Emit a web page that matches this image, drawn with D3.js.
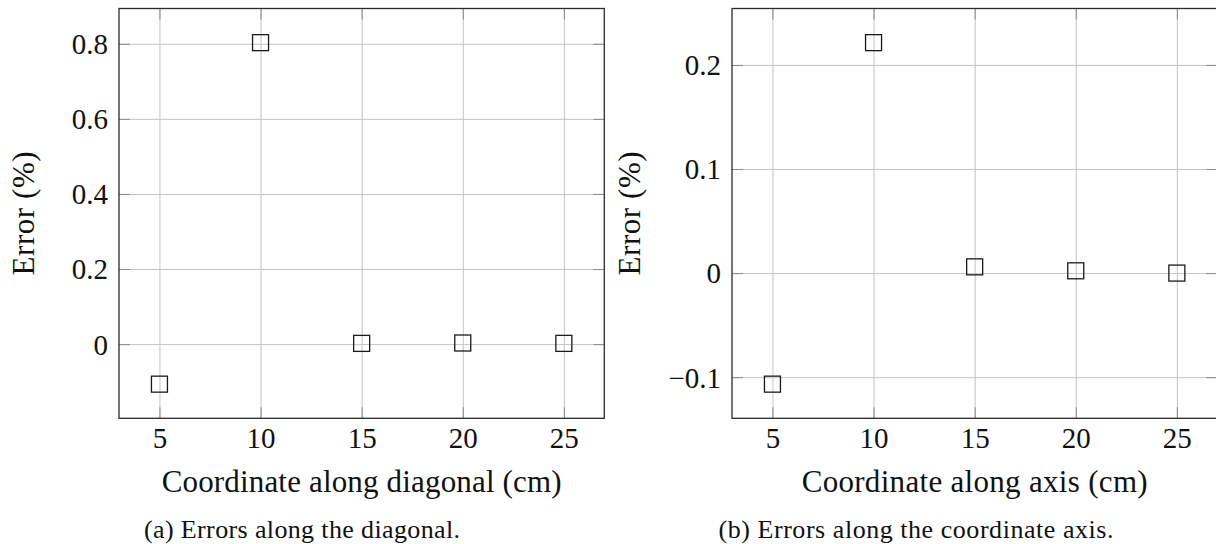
<!DOCTYPE html>
<html>
<head>
<meta charset="utf-8">
<script src="https://cdn.jsdelivr.net/npm/d3@7"></script>
<style>
  html, body { margin: 0; padding: 0; background: #fff; }
  svg { display: block; }
  text { font-family: "Liberation Serif", "Times New Roman", serif; fill: #111; }
</style>
</head>
<body>
<svg id="fig" width="1216" height="544"></svg>
<script>
// Measurement positions (cm) shared by both panels
const positions = [5, 10, 15, 20, 25];

// Relative error (%) along the diagonal
const errorsDiagonal = [-0.1066, 0.803, 0.002, 0.003, 0.002];

// Relative error (%) along the coordinate axis
const errorsAxis = [-0.1067, 0.2214, 0.006, 0.0022, 0.0];

// Tick values
const xTicks = [5, 10, 15, 20, 25];
const yTicksDiagonal = [0, 0.2, 0.4, 0.6, 0.8];
const yTicksAxis = [-0.1, 0, 0.1, 0.2];

// Text
const yLabel = "Error (%)";
const xLabelDiagonal = "Coordinate along diagonal (cm)";
const xLabelAxis = "Coordinate along axis (cm)";
const captionDiagonal = "(a) Errors along the diagonal.";
const captionAxis = "(b) Errors along the coordinate axis.";

const svg = d3.select("#fig");

const fmt = v => {
  if (v === 0) return "0";
  const s = String(Math.abs(v));
  return (v < 0 ? "\u2212" : "") + s;
};

// pad a [min,max] extent by 10% of its span on each side
function enlarged(values) {
  const [lo, hi] = d3.extent(values);
  const pad = (hi - lo) * 0.1;
  return [lo - pad, hi + pad];
}

function panel(opts) {
  const { left, top, width, height, ys, yTicks, xLabel, caption,
          yLabelX, captionX, xLabelWidth, captionWidth } = opts;
  const g = svg.append("g");

  const x = d3.scaleLinear()
    .domain(enlarged(positions))
    .range([left, left + width]);
  const y = d3.scaleLinear()
    .domain(enlarged(ys))
    .range([top + height, top]);

  // grid
  g.append("g")
    .attr("transform", `translate(0,${top + height})`)
    .call(d3.axisBottom(x).tickValues(xTicks).tickSize(-height).tickFormat(""))
    .call(a => a.select(".domain").remove())
    .call(a => a.selectAll("line").attr("stroke", "#c4c4c4").attr("stroke-width", 1));
  g.append("g")
    .attr("transform", `translate(${left},0)`)
    .call(d3.axisLeft(y).tickValues(yTicks).tickSize(-width).tickFormat(""))
    .call(a => a.select(".domain").remove())
    .call(a => a.selectAll("line").attr("stroke", "#c4c4c4").attr("stroke-width", 1));

  // inward tick marks on all four sides
  const tickLen = 11;
  const tickStyle = a => {
    a.select(".domain").remove();
    a.selectAll("line").attr("stroke", "#8a8a8a").attr("stroke-width", 1);
  };
  g.append("g").attr("transform", `translate(0,${top + height})`)
    .call(d3.axisTop(x).tickValues(xTicks).tickSize(tickLen).tickFormat("")).call(tickStyle);
  g.append("g").attr("transform", `translate(0,${top})`)
    .call(d3.axisBottom(x).tickValues(xTicks).tickSize(tickLen).tickFormat("")).call(tickStyle);
  g.append("g").attr("transform", `translate(${left},0)`)
    .call(d3.axisRight(y).tickValues(yTicks).tickSize(tickLen).tickFormat("")).call(tickStyle);
  g.append("g").attr("transform", `translate(${left + width},0)`)
    .call(d3.axisLeft(y).tickValues(yTicks).tickSize(tickLen).tickFormat("")).call(tickStyle);

  // tick labels
  g.append("g")
    .attr("transform", `translate(0,${top + height})`)
    .call(d3.axisBottom(x).tickValues(xTicks).tickSize(0).tickPadding(0).tickFormat(fmt))
    .call(a => a.select(".domain").remove())
    .call(a => a.selectAll("text")
      .attr("y", 30).attr("dy", 0)
      .attr("font-size", 29)
      .attr("font-family", "Liberation Serif")
      .attr("fill", "#111"));
  g.append("g")
    .attr("transform", `translate(${left},0)`)
    .call(d3.axisLeft(y).tickValues(yTicks).tickSize(0).tickPadding(11).tickFormat(fmt))
    .call(a => a.select(".domain").remove())
    .call(a => a.selectAll("text")
      .attr("dy", "0.34em")
      .attr("font-size", 29)
      .attr("font-family", "Liberation Serif")
      .attr("fill", "#111"));

  // frame
  g.append("rect")
    .attr("x", left).attr("y", top)
    .attr("width", width).attr("height", height)
    .attr("fill", "none").attr("stroke", "#2a2a2a").attr("stroke-width", 1.3);

  // square markers
  const s = 16;
  g.append("g").selectAll("rect")
    .data(positions.map((p, i) => [p, ys[i]]))
    .join("rect")
    .attr("x", d => x(d[0]) - s / 2)
    .attr("y", d => y(d[1]) - s / 2)
    .attr("width", s).attr("height", s)
    .attr("fill", "none").attr("stroke", "#1a1a1a").attr("stroke-width", 1.3);

  // axis titles
  g.append("text")
    .attr("x", left + width / 2).attr("y", top + height + 73.5)
    .attr("text-anchor", "middle")
    .attr("font-size", 31)
    .attr("textLength", xLabelWidth)
    .text(xLabel);
  g.append("text")
    .attr("transform", `translate(${yLabelX},${top + height / 2}) rotate(-90)`)
    .attr("text-anchor", "middle")
    .attr("font-size", 31)
    .attr("textLength", 124)
    .text(yLabel);

  // caption
  svg.append("text")
    .attr("x", captionX).attr("y", 538)
    .attr("text-anchor", "middle")
    .attr("font-size", 26)
    .attr("textLength", captionWidth)
    .text(caption);
}

panel({
  left: 119, top: 8.5, width: 485.3, height: 409.8,
  ys: errorsDiagonal, yTicks: yTicksDiagonal,
  xLabel: xLabelDiagonal, caption: captionDiagonal,
  yLabelX: 33.5, captionX: 302, xLabelWidth: 400, captionWidth: 316
});

panel({
  left: 732, top: 8.5, width: 485.3, height: 409.8,
  ys: errorsAxis, yTicks: yTicksAxis,
  xLabel: xLabelAxis, caption: captionAxis,
  yLabelX: 640, captionX: 916, xLabelWidth: 346, captionWidth: 395
});
</script>
</body>
</html>
